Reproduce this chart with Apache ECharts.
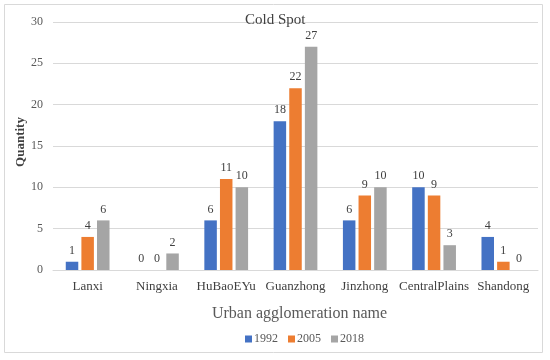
<!DOCTYPE html>
<html><head><meta charset="utf-8">
<script src="https://cdn.jsdelivr.net/npm/echarts@6/dist/echarts.min.js"></script>
<style>html,body{margin:0;padding:0;background:#fff}#c{width:550px;height:360px}</style>
</head><body><div id="c"></div>
<script>
const categories = ['Lanxi','Ningxia','HuBaoEYu','Guanzhong','Jinzhong','CentralPlains','Shandong'];
const v1992 = [1,0,6,18,6,10,4];
const v2005 = [4,0,11,22,9,9,1];
const v2018 = [6,2,10,27,10,3,0];
const yTicks = [0,5,10,15,20,25,30];
const font = '"Liberation Serif","Times New Roman",serif';
const chart = echarts.init(document.getElementById('c'));
function s(name, data, color){
  return {name, type:'bar', data, barWidth:12.5, barGap:'25%',
    itemStyle:{color},
    label:{show:true, position:'top', distance:5, color:'#404040', fontFamily:font, fontSize:12}};
}
chart.setOption({
  animation:false,
  textStyle:{fontFamily:font},
  graphic:[
    {type:'rect', shape:{x:4.5,y:4.5,width:538,height:348}, style:{fill:'none', stroke:'#d9d9d9', lineWidth:1}, z:-1},
    {type:'text', x:21, y:142, rotation:Math.PI/2,
     style:{text:'Quantity', font:'bold 13px "Liberation Serif", serif', fill:'#404040', align:'center', verticalAlign:'middle'}}
  ],
  title:{text:'Cold Spot', left:240, top:8, textStyle:{fontFamily:font, fontSize:15, fontWeight:'normal', color:'#404040'}},
  legend:{bottom:10, left:240, itemWidth:7, itemHeight:7, itemGap:10, icon:'rect',
    textStyle:{fontFamily:font, fontSize:12, color:'#595959', padding:[0,0,0,-3]}, data:['1992','2005','2018']},
  grid:{left:53, right:12, top:22, bottom:90, containLabel:false},
  xAxis:{type:'category', data:categories, name:'Urban agglomeration name', nameLocation:'middle', nameGap:36,
    nameTextStyle:{fontFamily:font, fontSize:16, color:'#595959', padding:[0,0,0,8]},
    axisLine:{lineStyle:{color:'#d9d9d9'}}, axisTick:{show:false},
    axisLabel:{fontFamily:font, fontSize:13, color:'#404040', margin:10, interval:0}},
  yAxis:{type:'value', min:0, max:30, interval:5,
    axisLine:{show:false}, axisTick:{show:false},
    axisLabel:{fontFamily:font, fontSize:12, color:'#595959', margin:10},
    splitLine:{lineStyle:{color:'#d9d9d9'}}},
  series:[s('1992',v1992,'#4472C4'), s('2005',v2005,'#ED7D31'), s('2018',v2018,'#A5A5A5')]
});
</script></body></html>
